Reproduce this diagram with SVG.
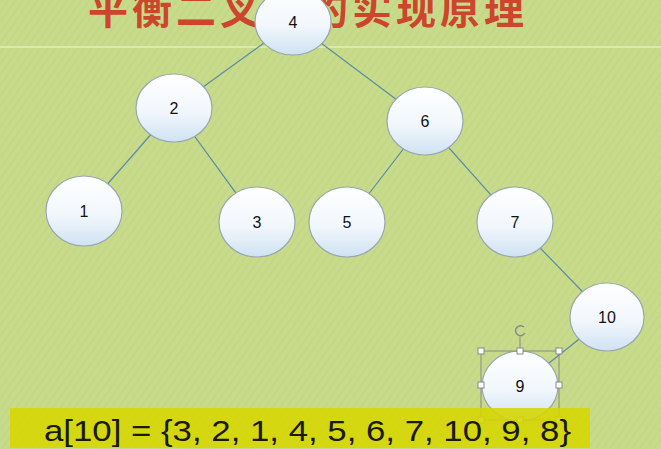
<svg xmlns="http://www.w3.org/2000/svg" width="661" height="449" viewBox="0 0 661 449">
<defs>
<linearGradient id="ng" x1="0" y1="0" x2="0" y2="1">
<stop offset="0" stop-color="#ffffff"/>
<stop offset="0.55" stop-color="#f2f7fc"/>
<stop offset="1" stop-color="#cfe2f3"/>
</linearGradient>
<pattern id="stripes" width="6" height="6" patternUnits="userSpaceOnUse" patternTransform="rotate(35)">
<rect width="6" height="6" fill="#c8db8c"/>
<rect width="2" height="6" fill="#c3d785"/>
</pattern>
</defs>
<style>
.node ellipse{fill:url(#ng);stroke:#9aa6ae;stroke-width:1.2}
.node text{font-family:"Liberation Sans",Arial,sans-serif;font-size:16px;fill:#111;text-anchor:middle}
#edges line{stroke:#5b8ba6;stroke-width:1.2}
.h{fill:#fff;stroke:#8a8a8a;stroke-width:1}
.title{font-family:"Noto Sans CJK SC","Noto Sans",sans-serif;font-size:40px;font-weight:bold;fill:#cc452d;letter-spacing:4px}
</style>
<rect width="661" height="449" fill="url(#stripes)"/>
<line x1="0" y1="47" x2="661" y2="47" stroke="#dbe8b0" stroke-width="2"/>
<text class="title" x="88" y="24">平衡二叉</text>
<text class="title" x="308" y="24">的实现原理</text>
<g id="edges">
<line x1="293" y1="22" x2="174" y2="108"/>
<line x1="293" y1="22" x2="425" y2="121"/>
<line x1="174" y1="108" x2="84" y2="211"/>
<line x1="174" y1="108" x2="257" y2="222"/>
<line x1="425" y1="121" x2="347" y2="222"/>
<line x1="425" y1="121" x2="515" y2="222"/>
<line x1="515" y1="222" x2="607" y2="317"/>
<line x1="607" y1="317" x2="520" y2="386"/>
</g>
<g id="n4" class="node"><ellipse cx="293" cy="22" rx="38" ry="33"/><text x="293" y="28">4</text></g>
<g id="n2" class="node"><ellipse cx="174" cy="108" rx="38" ry="34"/><text x="174" y="114">2</text></g>
<g id="n6" class="node"><ellipse cx="425" cy="121" rx="38" ry="34"/><text x="425" y="127">6</text></g>
<g id="n1" class="node"><ellipse cx="84" cy="211" rx="38" ry="35"/><text x="84" y="217">1</text></g>
<g id="n3" class="node"><ellipse cx="257" cy="222" rx="38" ry="35"/><text x="257" y="228">3</text></g>
<g id="n5" class="node"><ellipse cx="347" cy="222" rx="38" ry="35"/><text x="347" y="228">5</text></g>
<g id="n7" class="node"><ellipse cx="515" cy="222" rx="38" ry="35"/><text x="515" y="228">7</text></g>
<g id="n10" class="node"><ellipse cx="607" cy="317" rx="37" ry="34"/><text x="607" y="323">10</text></g>
<g id="n9" class="node"><ellipse cx="520" cy="386" rx="38" ry="35"/><text x="520" y="392">9</text></g>
<g id="selection">
<rect x="481" y="351" width="78" height="69" fill="none" stroke="#8a8a8a" stroke-width="1"/>
<line x1="520" y1="351" x2="520" y2="337" stroke="#8a8a8a"/>
<path d="M524 327 A5 5 0 1 0 525 333" fill="none" stroke="#8a8a8a" stroke-width="1.5"/>
<rect class="h" x="478" y="348" width="6" height="6"/>
<rect class="h" x="517" y="348" width="6" height="6"/>
<rect class="h" x="556" y="348" width="6" height="6"/>
<rect class="h" x="478" y="382" width="6" height="6"/>
<rect class="h" x="556" y="382" width="6" height="6"/>
<rect class="h" x="478" y="417" width="6" height="6"/>
<rect class="h" x="517" y="417" width="6" height="6"/>
<rect class="h" x="556" y="417" width="6" height="6"/>
</g>
<rect x="10" y="408" width="580" height="40" fill="#d6d600" opacity="0.88"/>
<text x="44" y="441" font-family="'Liberation Sans',Arial,sans-serif" font-size="30" fill="#1a1a00" textLength="527" lengthAdjust="spacingAndGlyphs">a[10] = {3, 2, 1, 4, 5, 6, 7, 10, 9, 8}</text>
</svg>
